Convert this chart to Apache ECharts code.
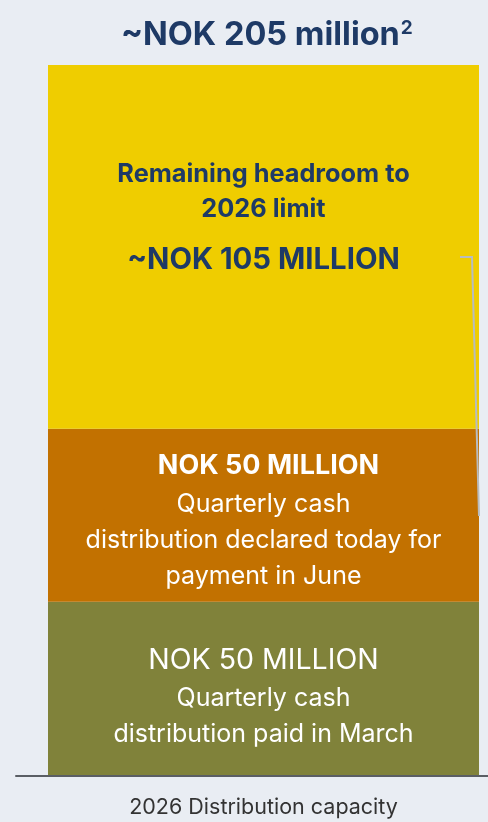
<!DOCTYPE html>
<html>
<head>
<meta charset="utf-8">
<script src="https://cdn.jsdelivr.net/npm/echarts@6/dist/echarts.min.js"></script>
<style>
  html, body { margin: 0; padding: 0; background: #e9edf3; }
  #chart { width: 488px; height: 822px; }
</style>
</head>
<body>
<div id="chart"></div>
<script>
const categories = ['2026 Distribution capacity'];
const paidMarch = [50];
const declaredJune = [50];
const headroom = [105];
const totalLabel = '~NOK 205 million';

const navy = '#1e3a66';
const font = 'Inter, "Noto Sans", sans-serif';

const chart = echarts.init(document.getElementById('chart'), null, { renderer: 'canvas' });

chart.setOption({
  backgroundColor: '#e9edf3',
  animation: false,
  title: {
    text: '{t|' + totalLabel + '}{s|2}',
    left: 116,
    top: 14,
    textStyle: {
      rich: {
        t: { fontFamily: font, fontWeight: 'bold', fontSize: 32.5, color: navy },
        s: { fontFamily: font, fontWeight: 'bold', fontSize: 19, color: navy, verticalAlign: 'top', padding: [0, 0, 14, 1] }
      }
    }
  },
  grid: [
    { left: 48, right: 9, top: 65, bottom: 47 },
    { left: 16, right: 0, top: 65, bottom: 46 }
  ],
  xAxis: [
    {
      type: 'category',
      gridIndex: 0,
      data: categories,
      axisLine: { show: false },
      axisTick: { show: false },
      axisLabel: { color: '#333', fontFamily: font, fontSize: 21.5, margin: 22 }
    },
    {
      type: 'category',
      gridIndex: 1,
      data: categories,
      axisLine: { show: true, lineStyle: { color: '#5a5e64', width: 2 } },
      axisTick: { show: false },
      axisLabel: { show: false }
    }
  ],
  yAxis: [
    { type: 'value', gridIndex: 0, min: 0, max: 205, show: false },
    { type: 'value', gridIndex: 1, min: 0, max: 205, show: false }
  ],
  series: [
    {
      type: 'bar',
      stack: 'cap',
      data: paidMarch,
      barWidth: '100%',
      itemStyle: { color: '#80823a' },
      label: {
        show: true,
        position: 'inside',
        offset: [0, 8],
        formatter: '{a|NOK 50 MILLION}\n{b|Quarterly cash}\n{b|distribution paid in March}',
        rich: {
          a: { fontFamily: font, fontSize: 28.5, color: '#fff', lineHeight: 40 },
          b: { fontFamily: font, fontSize: 25, color: '#fff', lineHeight: 36 }
        }
      }
    },
    {
      type: 'bar',
      stack: 'cap',
      data: declaredJune,
      barWidth: '100%',
      itemStyle: { color: '#c27100' },
      label: {
        show: true,
        position: 'inside',
        offset: [0, 5],
        formatter: '{a|NOK 50 MILLION}\n{b|Quarterly cash}\n{b|distribution declared today for}\n{b|payment in June}',
        rich: {
          a: { fontFamily: font, fontWeight: 'bold', fontSize: 27, color: '#fff', lineHeight: 40, padding: [0, 0, 0, 10] },
          b: { fontFamily: font, fontSize: 25, color: '#fff', lineHeight: 36 }
        }
      }
    },
    {
      type: 'bar',
      stack: 'cap',
      data: headroom,
      barWidth: '100%',
      itemStyle: { color: '#efcd00' },
      label: {
        show: true,
        position: 'inside',
        offset: [0, -22],
        formatter: '{a|Remaining headroom to}\n{a|2026 limit}\n{b|~NOK 105 MILLION}',
        rich: {
          a: { fontFamily: font, fontWeight: 'bold', fontSize: 25.3, color: navy, lineHeight: 35 },
          b: { fontFamily: font, fontWeight: 'bold', fontSize: 29.3, color: navy, lineHeight: 65 }
        }
      }
    }
  ],
  graphic: [
    {
      type: 'polyline',
      silent: true,
      z: 100,
      shape: { points: [[460, 257], [472, 257], [479, 516]] },
      style: { stroke: '#b8bcbf', lineWidth: 2, fill: null }
    }
  ]
});
</script>
</body>
</html>
